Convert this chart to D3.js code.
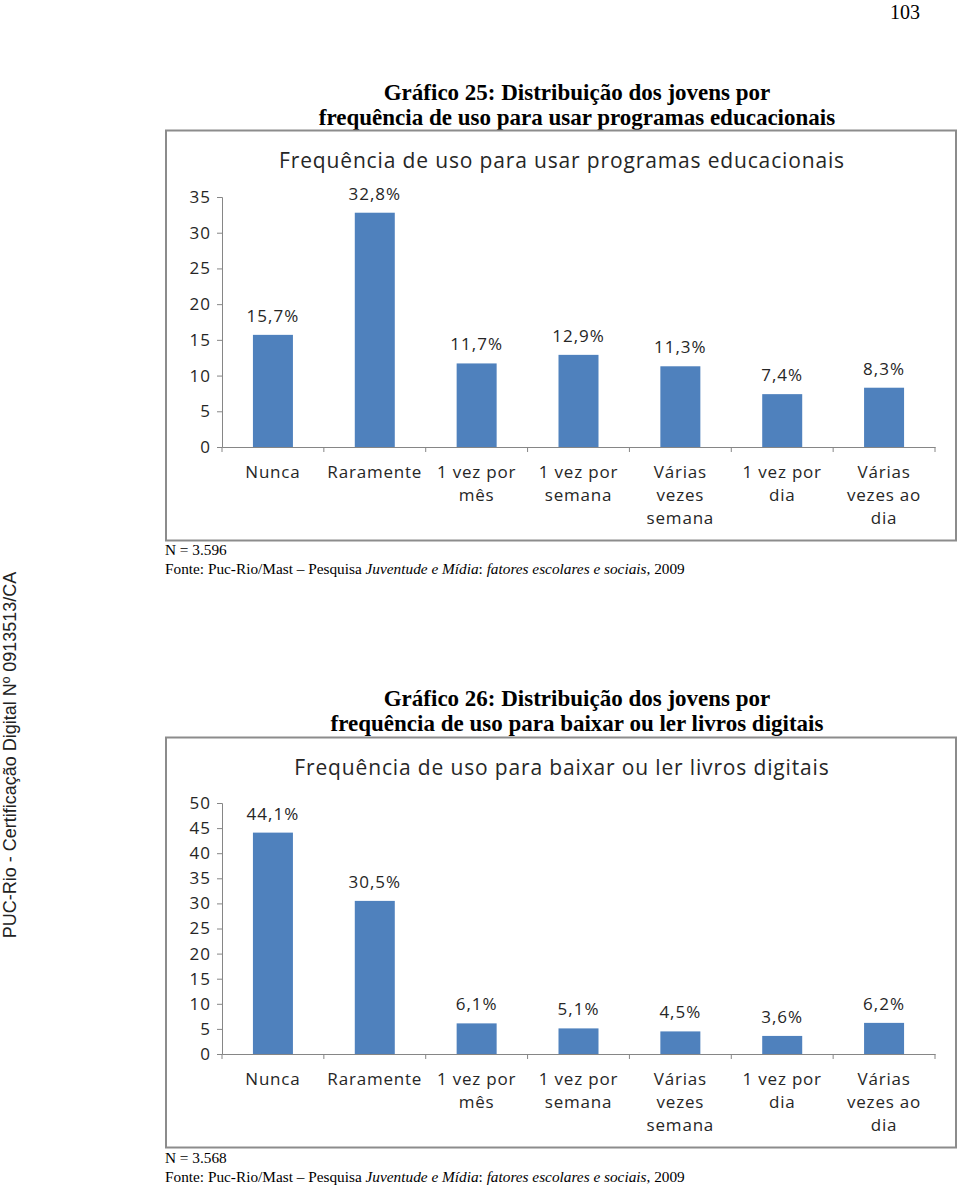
<!DOCTYPE html>
<meta charset="utf-8" />
<script src="https://d3js.org/d3.v7.min.js"></script>
<style>
  body { margin: 0; background: #fff; }
</style>
<body>
  <div id="page"></div>
  <script>
    // categories shared by both charts ("\n" = line break in the axis label)
    var categories = [
      "Nunca",
      "Raramente",
      "1 vez por\nmês",
      "1 vez por\nsemana",
      "Várias\nvezes\nsemana",
      "1 vez por\ndia",
      "Várias\nvezes ao\ndia",
    ];

    // Gráfico 25
    var values25 = [15.7, 32.8, 11.7, 12.9, 11.3, 7.4, 8.3];
    var ticks25 = [0, 5, 10, 15, 20, 25, 30, 35];

    // Gráfico 26
    var values26 = [44.1, 30.5, 6.1, 5.1, 4.5, 3.6, 6.2];
    var ticks26 = [0, 5, 10, 15, 20, 25, 30, 35, 40, 45, 50];

    var W = 960, H = 1186;
    var sans = "Open Sans, sans-serif";
    var serif = "Liberation Serif, Times New Roman, serif";

    var svg = d3
      .select("#page")
      .append("svg")
      .attr("width", W)
      .attr("height", H)
      .style("display", "block");

    svg.append("rect").attr("width", W).attr("height", H).attr("fill", "#fff");

    // page number
    svg
      .append("text")
      .attr("x", 905)
      .attr("y", 19)
      .attr("text-anchor", "middle")
      .style("font-family", serif)
      .style("font-size", "20px")
      .text("103");

    // vertical watermark on the left
    svg
      .append("text")
      .attr("transform", "translate(16,755) rotate(-90)")
      .attr("text-anchor", "middle")
      .style("font-family", "Liberation Sans, Arial, sans-serif")
      .style("font-size", "18px")
      .attr("fill", "#222")
      .text("PUC-Rio - Certificação Digital Nº 0913513/CA");

    function drawChart(opt) {
      var g = svg.append("g").attr("transform", "translate(0," + opt.top + ")");

      // heading (serif, bold, 2 lines)
      opt.heading.forEach(function (line, i) {
        g.append("text")
          .attr("x", 577)
          .attr("y", opt.headY + i * 25)
          .attr("text-anchor", "middle")
          .style("font-family", serif)
          .style("font-weight", "bold")
          .style("font-size", "23px")
          .text(line);
      });

      // chart frame
      g.append("rect")
        .attr("x", 166)
        .attr("y", 0.5)
        .attr("width", 790)
        .attr("height", 410)
        .attr("fill", "#fff")
        .attr("stroke", "#8c8c8c")
        .attr("stroke-width", 2);

      // inner chart title
      g.append("text")
        .attr("x", 562)
        .attr("y", 38)
        .attr("text-anchor", "middle")
        .style("font-family", sans)
        .style("font-size", "21px")
        .style("letter-spacing", "0.85px")
        .attr("fill", "#262626")
        .text(opt.title);

      var x = d3
        .scaleBand()
        .domain(categories)
        .range([222, 935])
        .paddingInner(0)
        .paddingOuter(0);

      var y = d3
        .scaleLinear()
        .domain([0, d3.max(opt.ticks)])
        .range([opt.y0, opt.yTop]);

      // y axis
      var ya = g
        .append("g")
        .attr("transform", "translate(222,0)")
        .call(d3.axisLeft(y).tickValues(opt.ticks).tickSize(5).tickPadding(6));
      ya.selectAll("path,line").attr("stroke", "#868686");
      ya.selectAll("text")
        .style("font-family", sans)
        .style("font-size", "17px")
        .style("letter-spacing", "1px")
        .attr("fill", "#262626");

      // x axis
      var xa = g
        .append("g")
        .attr("transform", "translate(0," + opt.y0 + ")")
        .call(d3.axisBottom(x).tickSize(0).tickFormat(""));
      xa.select("path").attr("stroke", "#868686");
      // ticks at the category boundaries
      var bounds = categories.map(function (c) { return x(c); });
      bounds.push(x(categories[categories.length - 1]) + x.bandwidth());
      xa.selectAll("line.bound")
        .data(bounds)
        .enter()
        .append("line")
        .attr("class", "bound")
        .attr("x1", function (d) { return d; })
        .attr("x2", function (d) { return d; })
        .attr("y1", 0)
        .attr("y2", 5)
        .attr("stroke", "#868686");

      // category labels
      categories.forEach(function (c) {
        var lines = c.split("\n");
        var t = g
          .append("text")
          .attr("text-anchor", "middle")
          .style("font-family", sans)
          .style("font-size", "17px")
          .style("letter-spacing", "0.8px")
          .attr("fill", "#262626");
        lines.forEach(function (l, i) {
          t.append("tspan")
            .attr("x", x(c) + x.bandwidth() / 2)
            .attr("y", opt.y0 + 31 + i * 23)
            .text(l);
        });
      });

      // bars
      var barW = 40;
      g.selectAll("rect.bar")
        .data(opt.values)
        .enter()
        .append("rect")
        .attr("class", "bar")
        .attr("x", function (d, i) {
          return x(categories[i]) + (x.bandwidth() - barW) / 2;
        })
        .attr("y", function (d) { return y(d); })
        .attr("width", barW)
        .attr("height", function (d) { return opt.y0 - y(d); })
        .attr("fill", "#4f81bd");

      // value labels
      g.selectAll("text.val")
        .data(opt.values)
        .enter()
        .append("text")
        .attr("class", "val")
        .attr("x", function (d, i) {
          return x(categories[i]) + x.bandwidth() / 2;
        })
        .attr("y", function (d) { return y(d) - 13; })
        .attr("text-anchor", "middle")
        .style("font-family", sans)
        .style("font-size", "17px")
        .style("letter-spacing", "1px")
        .attr("fill", "#262626")
        .text(function (d) { return d.toFixed(1).replace(".", ",") + "%"; });

      // footnotes
      g.append("text")
        .attr("x", 165)
        .attr("y", opt.noteY)
        .style("font-family", serif)
        .style("font-size", "15.3px")
        .text(opt.n);
      var f = g
        .append("text")
        .attr("x", 165)
        .attr("y", opt.noteY + 19)
        .style("font-family", serif)
        .style("font-size", "15.3px");
      f.append("tspan").text("Fonte: Puc-Rio/Mast – Pesquisa ");
      f.append("tspan").style("font-style", "italic").text("Juventude e Mídia");
      f.append("tspan").text(": ");
      f.append("tspan").style("font-style", "italic").text("fatores escolares e sociais");
      f.append("tspan").text(", 2009");
    }

    drawChart({
      top: 130,
      headY: -30,
      heading: [
        "Gráfico 25: Distribuição dos jovens por",
        "frequência de uso para usar programas educacionais",
      ],
      title: "Frequência de uso para usar programas educacionais",
      values: values25,
      ticks: ticks25,
      y0: 317,
      yTop: 67,
      n: "N = 3.596",
      noteY: 425,
    });

    drawChart({
      top: 737,
      headY: -31,
      heading: [
        "Gráfico 26: Distribuição dos jovens por",
        "frequência de uso para baixar ou ler livros digitais",
      ],
      title: "Frequência de uso para baixar ou ler livros digitais",
      values: values26,
      ticks: ticks26,
      y0: 317,
      yTop: 66,
      n: "N = 3.568",
      noteY: 426,
    });
  </script>
</body>
